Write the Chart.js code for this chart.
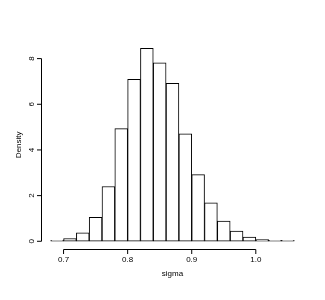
<!DOCTYPE html>
<html>
<head>
<meta charset="utf-8">
<script src="https://cdn.jsdelivr.net/npm/chart.js@4"></script>
<style>
  html, body { margin: 0; padding: 0; background: #fff; }
</style>
</head>
<body>
<canvas id="hist" width="325" height="300"></canvas>
<script>
// histogram of sigma, bins of width 0.02 from 0.68 to 1.06
const binStarts = [0.68, 0.70, 0.72, 0.74, 0.76, 0.78, 0.80, 0.82, 0.84, 0.86,
                   0.88, 0.90, 0.92, 0.94, 0.96, 0.98, 1.00, 1.02, 1.04]
const binWidth = 0.02
const density = [0.02, 0.12, 0.37, 1.05, 2.40, 4.93, 7.09, 8.45, 7.82, 6.92,
                 4.71, 2.92, 1.68, 0.88, 0.45, 0.18, 0.07, 0.03, 0.02]
const xTicks = [0.7, 0.8, 0.9, 1.0]
const xTickLabels = ['0.7', '0.8', '0.9', '1.0']
const yTicks = [0, 2, 4, 6, 8]
const xTitle = 'sigma'
const yTitle = 'Density'

const points = binStarts.map((s, i) => ({ x: s + binWidth / 2, y: density[i] }))

// R style axes: line only spans the tick range, ticks point outward
const rAxes = {
  id: 'rAxes',
  afterDraw(chart) {
    const ctx = chart.ctx
    const xs = chart.scales.x
    const ys = chart.scales.y
    const area = chart.chartArea
    const tick = 4.5
    ctx.save()
    ctx.strokeStyle = '#000'
    ctx.lineWidth = 1
    ctx.fillStyle = '#000'
    ctx.font = '8px "Liberation Sans", Arial, sans-serif'

    // x axis
    const xb = Math.round(area.bottom) + 0.5
    ctx.beginPath()
    ctx.moveTo(xs.getPixelForValue(xTicks[0]), xb)
    ctx.lineTo(xs.getPixelForValue(xTicks[xTicks.length - 1]), xb)
    xTicks.forEach(v => {
      const px = xs.getPixelForValue(v)
      ctx.moveTo(px, xb)
      ctx.lineTo(px, xb + tick)
    })
    ctx.stroke()
    ctx.textAlign = 'center'
    ctx.textBaseline = 'middle'
    xTicks.forEach((v, i) => {
      ctx.fillText(xTickLabels[i], xs.getPixelForValue(v), xb + 10)
    })
    ctx.fillText(xTitle, (area.left + area.right) / 2, xb + 24)

    // y axis
    const yl = Math.round(area.left) + 0.5
    ctx.beginPath()
    ctx.moveTo(yl, ys.getPixelForValue(yTicks[0]))
    ctx.lineTo(yl, ys.getPixelForValue(yTicks[yTicks.length - 1]))
    yTicks.forEach(v => {
      const py = ys.getPixelForValue(v)
      ctx.moveTo(yl, py)
      ctx.lineTo(yl - tick, py)
    })
    ctx.stroke()
    yTicks.forEach(v => {
      ctx.save()
      ctx.translate(yl - 10, ys.getPixelForValue(v))
      ctx.rotate(-Math.PI / 2)
      ctx.fillText(String(v), 0, 0)
      ctx.restore()
    })
    ctx.save()
    ctx.translate(19, (area.top + area.bottom) / 2)
    ctx.rotate(-Math.PI / 2)
    ctx.fillText(yTitle, 0, 0)
    ctx.restore()
    ctx.restore()
  }
}

const lo = binStarts[0]
const hi = binStarts[binStarts.length - 1] + binWidth
const ymax = Math.max(...density)

new Chart(document.getElementById('hist'), {
  type: 'bar',
  data: {
    datasets: [{
      data: points,
      backgroundColor: '#ffffff',
      borderColor: '#000000',
      borderWidth: 1,
      borderSkipped: false,
      minBarLength: 1,
      barPercentage: 1,
      categoryPercentage: 1,
      grouped: false
    }]
  },
  options: {
    responsive: false,
    animation: false,
    layout: { padding: { left: 41, right: 21, top: 40.6, bottom: 51 } },
    plugins: { legend: { display: false }, tooltip: { enabled: false } },
    scales: {
      x: {
        type: 'linear',
        display: false,
        offset: false,
        min: lo - (hi - lo) * 0.04,
        max: hi + (hi - lo) * 0.04
      },
      y: {
        display: false,
        min: -ymax * 0.04,
        max: ymax * 1.04
      }
    }
  },
  plugins: [rAxes]
})
</script>
</body>
</html>
